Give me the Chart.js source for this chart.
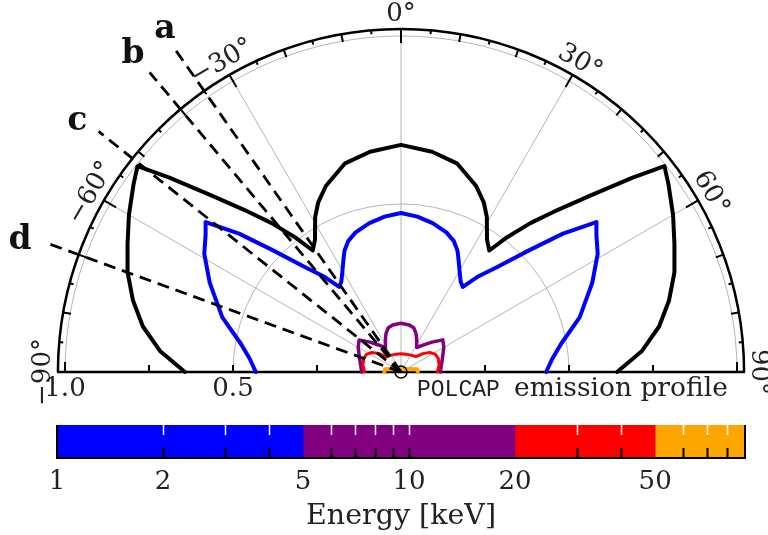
<!DOCTYPE html>
<html>
<head>
<meta charset="utf-8">
<script src="https://cdn.jsdelivr.net/npm/chart.js@4.4.1/dist/chart.umd.min.js"></script>
<style>
	html, body { margin: 0; padding: 0; background: #fff; }
	#wrap { position: relative; width: 768px; height: 535px; }
	#polar { position: absolute; left: 0; top: 0; }
	#cbar { position: absolute; left: 0; top: 410px; }
</style>
</head>
<body>
<div id="wrap">
	<canvas id="polar" width="768" height="410"></canvas>
	<canvas id="cbar" width="768" height="125"></canvas>
</div>
<script>
// emission profiles: angle from the pole axis [deg] and normalised intensity
const blackAngles = [-90, -85, -80, -75, -70, -65, -60, -55, -52, -50, -47, -44, -41, -38, -36, -33, -29, -26, -22, -15, -8, 0, 8, 15, 22, 26, 29, 33, 36, 38, 41, 44, 47, 50, 52, 55, 60, 65, 70, 75, 80, 85, 90]
const blackR = [0.643, 0.72, 0.78, 0.826, 0.866, 0.898, 0.935, 0.972, 0.995, 0.9, 0.77, 0.67, 0.587, 0.505, 0.447, 0.47, 0.527, 0.562, 0.597, 0.643, 0.662, 0.676, 0.662, 0.643, 0.597, 0.562, 0.527, 0.47, 0.447, 0.505, 0.587, 0.67, 0.77, 0.9, 0.995, 0.972, 0.935, 0.898, 0.866, 0.826, 0.78, 0.72, 0.643]

const blueAngles = [-90, -85, -80, -73, -65, -59, -55, -52.5, -49.5, -46.5, -42.5, -39, -36, -33.5, -31, -28, -25, -22, -18, -12, -6, 0, 6, 12, 18, 22, 25, 28, 31, 33.5, 36, 39, 42.5, 46.5, 49.5, 52.5, 55, 59, 65, 73, 80, 85, 90]
const blueR = [0.432, 0.452, 0.484, 0.556, 0.628, 0.683, 0.71, 0.733, 0.634, 0.527, 0.424, 0.367, 0.313, 0.322, 0.34, 0.367, 0.398, 0.42, 0.437, 0.453, 0.465, 0.473, 0.465, 0.453, 0.437, 0.42, 0.398, 0.367, 0.34, 0.322, 0.313, 0.367, 0.424, 0.527, 0.634, 0.733, 0.71, 0.683, 0.628, 0.556, 0.484, 0.452, 0.432]

const purpleAngles = [-90, -80, -70, -60, -52.5, -46, -40, -33, -28, -25, -21, -16, -10, 0, 10, 16, 21, 25, 28, 33, 40, 46, 52.5, 60, 70, 80, 90]
const purpleR = [0.117, 0.122, 0.132, 0.147, 0.157, 0.128, 0.105, 0.087, 0.098, 0.11, 0.124, 0.137, 0.142, 0.145, 0.142, 0.137, 0.124, 0.11, 0.098, 0.087, 0.105, 0.128, 0.157, 0.147, 0.132, 0.122, 0.117]

const redAngles = [-90, -80, -70, -63, -56, -50, -44, -30, -15, 0, 15, 30, 44, 50, 56, 63, 70, 80, 90]
const redR = [0.108, 0.115, 0.118, 0.115, 0.104, 0.085, 0.064, 0.058, 0.055, 0.054, 0.055, 0.058, 0.064, 0.085, 0.104, 0.115, 0.118, 0.115, 0.108]

const orangeAngles = [-90, -80, -70, -50, -25, 0, 25, 50, 70, 80, 90]
const orangeR = [0.05, 0.048, 0.026, 0.013, 0.009, 0.008, 0.009, 0.013, 0.026, 0.048, 0.05]

// sight lines a-d
const rayNames = ['a', 'b', 'c', 'd']
const rayAngles = [-35, -40, -51.5, -70]
const rayEnds = [1.18, 1.164, 1.15, 1.13]
const rayLabelAngles = [-34.6, -40.2, -52.3, -70.9]
const rayLabelRadii = [1.237, 1.236, 1.218, 1.2]

// polar grid
const gridCircles = [0.5, 1.0]
const gridSpokes = [-60, -30, 0, 30, 60]
const angleTicks = [-90, -60, -30, 0, 30, 60, 90]
const angleLabels = ['−90°', '−60°', '−30°', '0°', '30°', '60°', '90°']
const radialTicks = [-1, -0.75, -0.5, -0.25, 0.25, 0.5, 0.75, 1]
const radialLabelValues = [-1, -0.5]
const radialLabels = ['1.0', '0.5']

// colour bar (energy bands)
const cbEdges = [1, 5, 20, 50, 90]
const cbColors = ['#0000ff', '#800080', '#ff0000', '#ffa500']
const cbTicks = [1, 2, 3, 4, 5, 6, 7, 8, 9, 10, 20, 30, 40, 50, 60, 70, 80, 90]
const cbLabels = [1, 2, 5, 10, 20, 50]

const deg = Math.PI / 180
const toXY = (angles, radii) => angles.map((a, i) => ({
	x: radii[i] * Math.sin(a * deg),
	y: radii[i] * Math.cos(a * deg),
}))

const serif = "'DejaVu Serif', serif"
const textColor = '#222'

const curve = (angles, radii, color, width) => ({
	data: toXY(angles, radii),
	showLine: true,
	borderColor: color,
	borderWidth: width,
	pointRadius: 0,
	tension: 0,
	fill: false,
	borderJoinStyle: 'round',
	borderCapStyle: 'round',
})

const rays = rayAngles.map((a, i) => ({
	data: toXY([a, a], [0, rayEnds[i]]),
	showLine: true,
	borderColor: '#000',
	borderWidth: 2.8,
	borderDash: [12, 7],
	pointRadius: 0,
}))

// frame of the half-polar plot, drawn under the curves
const polarFrame = {
	id: 'polarFrame',
	beforeDatasetsDraw(chart) {
		const { ctx, scales: { x, y } } = chart
		const cx = x.getPixelForValue(0)
		const cy = y.getPixelForValue(0)
		const unit = x.getPixelForValue(1) - cx
		ctx.save()

		ctx.strokeStyle = '#b5b5b5'
		ctx.lineWidth = 1
		gridCircles.forEach(r => {
			ctx.beginPath()
			ctx.arc(cx, cy, r * unit, Math.PI, 2 * Math.PI)
			ctx.stroke()
		})
		gridSpokes.forEach(a => {
			ctx.beginPath()
			ctx.moveTo(cx, cy)
			ctx.lineTo(cx + unit * Math.sin(a * deg), cy - unit * Math.cos(a * deg))
			ctx.stroke()
		})

		const R = 1.021 * unit
		ctx.strokeStyle = '#000'
		ctx.lineWidth = 2.5
		ctx.beginPath()
		ctx.arc(cx, cy, R, Math.PI, 2 * Math.PI)
		ctx.stroke()
		ctx.beginPath()
		ctx.moveTo(cx - R - 1, cy)
		ctx.lineTo(cx + R + 1, cy)
		ctx.stroke()

		// ticks every 5 degrees on the rim
		ctx.lineWidth = 2
		for (let a = -85; a <= 85; a += 5) {
			const len = a % 30 === 0 ? 14 : a % 10 === 0 ? 8 : 4
			const s = Math.sin(a * deg), c = Math.cos(a * deg)
			ctx.beginPath()
			ctx.moveTo(cx + R * s, cy - R * c)
			ctx.lineTo(cx + (R - len) * s, cy - (R - len) * c)
			ctx.stroke()
		}
		radialTicks.forEach(v => {
			const px = x.getPixelForValue(v)
			ctx.beginPath()
			ctx.moveTo(px, cy)
			ctx.lineTo(px, cy - (Math.abs(v) === 1 ? 10 : 7))
			ctx.stroke()
		})
		ctx.restore()
	},
	afterDatasetsDraw(chart) {
		const { ctx, scales: { x, y } } = chart
		const cx = x.getPixelForValue(0)
		const cy = y.getPixelForValue(0)
		const unit = x.getPixelForValue(1) - cx
		ctx.save()
		ctx.fillStyle = textColor
		ctx.textAlign = 'center'
		ctx.textBaseline = 'middle'

		ctx.font = '26px ' + serif
		angleTicks.forEach((a, i) => {
			const r = 1.065 * unit
			ctx.save()
			ctx.translate(cx + r * Math.sin(a * deg), cy - r * Math.cos(a * deg))
			ctx.rotate(a * deg)
			ctx.fillText(angleLabels[i], 0, 0)
			ctx.restore()
		})

		ctx.textBaseline = 'alphabetic'
		radialLabelValues.forEach((v, i) => {
			ctx.fillText(radialLabels[i], x.getPixelForValue(v), cy + 24)
		})

		ctx.textAlign = 'left'
		ctx.font = "23px 'Liberation Mono', monospace"
		ctx.fillText('POLCAP', 417, cy + 24)
		ctx.font = '26.5px ' + serif
		ctx.fillText('emission profile', 514, cy + 24)

		ctx.textAlign = 'center'
		ctx.textBaseline = 'middle'
		ctx.fillStyle = '#111'
		ctx.font = 'bold 33px ' + serif
		rayNames.forEach((n, i) => {
			const a = rayLabelAngles[i] * deg
			const r = rayLabelRadii[i] * unit
			ctx.fillText(n, cx + r * Math.sin(a), cy - r * Math.cos(a))
		})
		ctx.restore()
	},
}

const polarChart = new Chart(document.getElementById('polar'), {
	type: 'scatter',
	data: {
		datasets: [
			{
				data: [{ x: 0, y: 0 }],
				pointRadius: 6,
				pointBorderWidth: 1.5,
				pointBorderColor: '#000',
				pointBackgroundColor: 'rgba(0,0,0,0)',
			},
			...rays,
			curve(orangeAngles, orangeR, '#ffa500', 4),
			curve(redAngles, redR, '#ff0000', 3),
			curve(purpleAngles, purpleR, '#800080', 3.5),
			curve(blueAngles, blueR, '#0000ff', 4),
			curve(blackAngles, blackR, '#000000', 4),
		],
	},
	options: {
		responsive: false,
		animation: false,
		events: [],
		layout: { padding: 0, autoPadding: false },
		scales: {
			x: { type: 'linear', display: false, min: -401 / 336, max: 367 / 336 },
			y: { type: 'linear', display: false, min: -38 / 336, max: 372 / 336 },
		},
		plugins: { legend: { display: false }, tooltip: { enabled: false } },
	},
	plugins: [polarFrame],
})

// white ticks from the top, black ticks from the bottom of the bar
const cbFrame = {
	id: 'cbFrame',
	afterDatasetsDraw(chart) {
		const { ctx, chartArea: { left, right, top, bottom }, scales: { x } } = chart
		ctx.save()
		cbTicks.forEach(v => {
			if (cbEdges.includes(v)) return
			const px = Math.round(x.getPixelForValue(v)) + 0.5
			ctx.lineWidth = 1.5
			ctx.strokeStyle = '#fff'
			ctx.beginPath()
			ctx.moveTo(px, top)
			ctx.lineTo(px, top + 10)
			ctx.stroke()
			ctx.lineWidth = 2
			ctx.strokeStyle = '#000'
			ctx.beginPath()
			ctx.moveTo(px, bottom)
			ctx.lineTo(px, bottom - 10)
			ctx.stroke()
		})
		ctx.strokeStyle = '#000'
		ctx.lineWidth = 2
		ctx.beginPath()
		ctx.moveTo(left, top)
		ctx.lineTo(left, bottom)
		ctx.lineTo(right, bottom)
		ctx.lineTo(right, top)
		ctx.stroke()
		ctx.restore()
	},
}

const cbChart = new Chart(document.getElementById('cbar'), {
	type: 'bar',
	data: {
		labels: [''],
		datasets: cbColors.map((c, i) => ({
			data: [[cbEdges[i], cbEdges[i + 1]]],
			backgroundColor: c,
			borderWidth: 0,
			grouped: false,
			barPercentage: 1,
			categoryPercentage: 1,
		})),
	},
	options: {
		indexAxis: 'y',
		responsive: false,
		animation: false,
		events: [],
		layout: { padding: { left: 57, right: 23, top: 15, bottom: 0 }, autoPadding: false },
		scales: {
			y: { display: false },
			x: {
				type: 'logarithmic',
				min: 1,
				max: 90,
				afterBuildTicks: s => { s.ticks = cbTicks.map(v => ({ value: v })) },
				afterFit: s => { s.height = 77 },
				grid: { display: false, drawTicks: false },
				border: { display: false },
				ticks: {
					autoSkip: false,
					maxRotation: 0,
					padding: 9,
					color: textColor,
					font: { family: serif, size: 26 },
					callback: v => (cbLabels.includes(v) ? String(v) : ''),
				},
				title: {
					display: true,
					text: 'Energy [keV]',
					color: textColor,
					font: { family: serif, size: 28.5 },
					padding: { top: 0, bottom: 1 },
				},
			},
		},
		plugins: { legend: { display: false }, tooltip: { enabled: false } },
	},
	plugins: [cbFrame],
})
</script>
</body>
</html>
